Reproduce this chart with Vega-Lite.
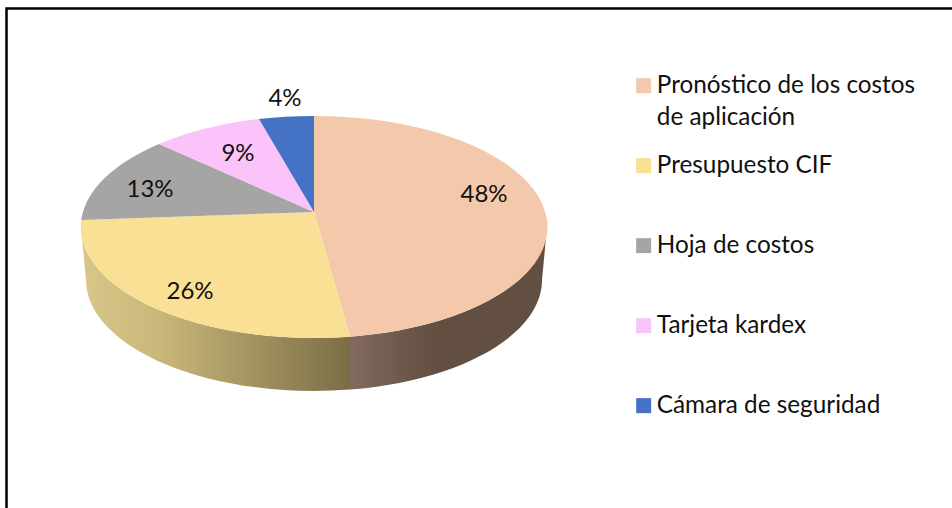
{
"$schema":"https://vega.github.io/schema/vega-lite/v6.json",
"width":951,"height":505,
"autosize":"none",
"padding":{"left":6.5,"top":8.5,"right":0,"bottom":0},
"background":"white",
"view":{"stroke":"#000000","strokeWidth":2.5,"fill":"white"},
"config":{"style":{"guide-label":{"lineHeight":32,"dy":7}}},
"data":{"values":[
{"categoria":"Pronóstico de los costos de aplicación","share":0.48},
{"categoria":"Presupuesto CIF","share":0.26},
{"categoria":"Hoja de costos","share":0.13},
{"categoria":"Tarjeta kardex","share":0.09},
{"categoria":"Cámara de seguridad","share":0.04}
]},
"layer":[
{"transform":[{"filter":"datum.share == 0.48"}],
 "mark":{"type":"point","filled":true,"opacity":1,"size":4,"strokeWidth":0,
  "shape":"M65,-34A233,111,0,0,1,-132,75.7L-132,128.6A228,111,0,0,0,60,19Z",
  "fill":{"gradient":"linear","x1":0,"y1":0,"x2":1,"y2":0,"stops":[{"offset":0,"color":"#836A5E"},{"offset":0.25,"color":"#6E5A4C"},{"offset":0.45,"color":"#624F42"},{"offset":1,"color":"#624F42"}]}}},
{"transform":[{"filter":"datum.share == 0.26"}],
 "mark":{"type":"point","filled":true,"opacity":1,"size":4,"strokeWidth":0,
  "shape":"M-132,75.7A233,111,0,0,1,-401,-34L-396,19A228,111,0,0,0,-132,128.6Z",
  "fill":{"gradient":"linear","x1":0,"y1":0,"x2":1,"y2":0,"stops":[{"offset":0,"color":"#D9C78A"},{"offset":0.3,"color":"#C9B67A"},{"offset":1,"color":"#7A6E46"}]}}},
{"mark":{"type":"point","filled":true,"opacity":1,"size":4,"strokeWidth":0},
 "encoding":{
  "color":{"field":"categoria","type":"nominal","sort":null,
   "scale":{"domain":["Pronóstico de los costos de aplicación","Presupuesto CIF","Hoja de costos","Tarjeta kardex","Cámara de seguridad"],
            "range":["#F4C9AB","#FAE094","#A5A5A5","#FAC3FA","#4472C4"]},
   "legend":{"title":null,"orient":"none","legendX":625,"legendY":65,"symbolType":"square","symbolSize":225,"symbolStrokeWidth":0,"symbolOpacity":1,
     "labelFont":"Lato","labelFontSize":24.3,"labelColor":"#111111","labelLimit":400,"labelOffset":1,"rowPadding":23,"gridAlign":"all","padding":0,
     "labelExpr":"datum.label == 'Pronóstico de los costos de aplicación' ? ['Pronóstico de los costos','de aplicación'] : datum.label",
     "labelBaseline":"alphabetic"}},
  "shape":{"field":"categoria","type":"nominal","legend":null,
   "scale":{"domain":["Pronóstico de los costos de aplicación","Presupuesto CIF","Hoja de costos","Tarjeta kardex","Cámara de seguridad"],
    "range":["M-168,-49L-168,-145A233,111,0,0,1,-132,75.7Z",
             "M-168,-49L-132,75.7A233,111,0,0,1,-400.7,-41Z",
             "M-168,-49L-400.7,-41A233,111,0,0,1,-323,-117Z",
             "M-168,-49L-323,-117A233,111,0,0,1,-223,-142Z",
             "M-168,-49L-223,-142A233,111,0,0,1,-168,-145Z"]}}
 }},
{"mark":{"type":"text","font":"Lato","fontSize":24,"color":"#111111","align":"center","baseline":"middle"},
 "encoding":{
  "text":{"field":"share","type":"quantitative","format":".0%"},
  "x":{"field":"share","type":"quantitative","axis":null,"scale":{"domain":[0.04,0.09,0.13,0.26,0.48],"range":[278.5,231.5,143.5,183.5,477.5]}},
  "y":{"field":"share","type":"quantitative","axis":null,"scale":{"domain":[0.04,0.09,0.13,0.26,0.48],"range":[90.5,145.5,181.5,283.5,186.5]}}
 }}
],
"resolve":{"scale":{"shape":"independent"}}
}
